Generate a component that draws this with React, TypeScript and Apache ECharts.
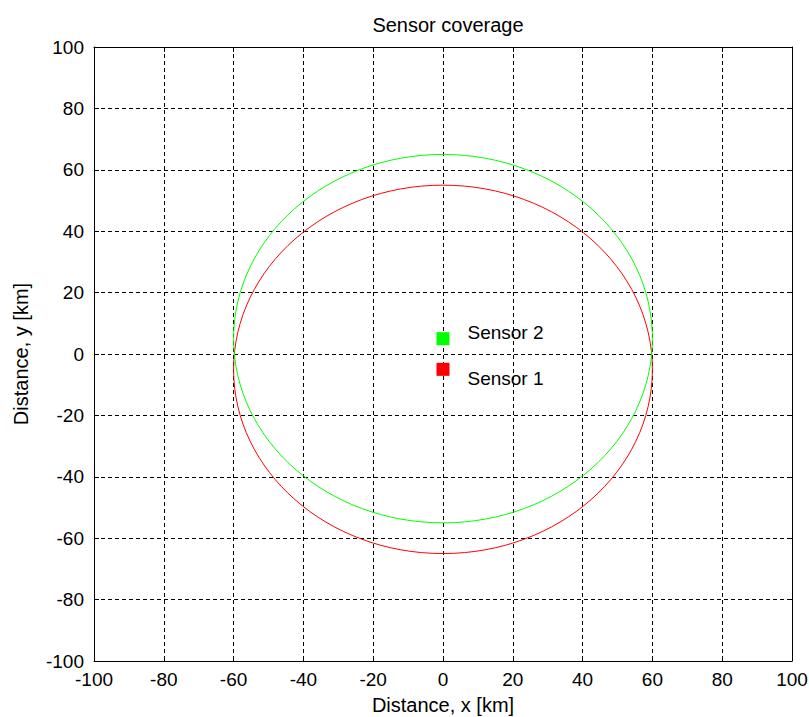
import React, { useEffect, useRef } from "react";
import * as echarts from "echarts";

const sensorNames = ["Sensor 1", "Sensor 2"];
const sensorX = [0, 0];
const sensorY = [-5, 5];
const sensorRange = [60, 60];
const sensorColors = ["#ff0000", "#00ff00"];
const labelOffsets = [[0, 9], [0, -6]];

const axisMin = -100;
const axisMax = 100;
const tickStep = 20;

const FONT = "Liberation Sans";

export default function App() {
  const ref = useRef<HTMLDivElement>(null);
  useEffect(() => {
    if (!ref.current) return;
    const chart = echarts.init(ref.current, null, { renderer: "svg" });
    const circleData = sensorNames.map((n, i) => ({
      name: n,
      value: [sensorX[i], sensorY[i], sensorRange[i]],
      itemStyle: { color: sensorColors[i] },
    }));
    const pointData = sensorNames.map((n, i) => ({
      name: n,
      value: [sensorX[i], sensorY[i]],
      itemStyle: { color: sensorColors[i], opacity: 1 },
      label: { offset: labelOffsets[i] },
    }));
    const splitLine = { show: true, lineStyle: { color: "#000", type: [4, 3] as any, width: 1 } };
    const axisCommon = {
      min: axisMin,
      max: axisMax,
      interval: tickStep,
      axisLine: { show: true, onZero: false, lineStyle: { color: "#000", width: 1 } },
      axisTick: { show: true, inside: true, length: 5, lineStyle: { color: "#000" } },
    };
    chart.setOption({
      animation: false,
      backgroundColor: "#fff",
      title: {
        text: "Sensor coverage",
        left: 443,
        textAlign: "center",
        top: 10,
        textStyle: { fontFamily: FONT, fontSize: 20, fontWeight: "normal", color: "#000" },
      },
      grid: {
        left: 94,
        top: 47,
        width: 698,
        height: 614,
        containLabel: false,
        outerBoundsMode: "none",
      } as any,
      xAxis: [
        {
          ...axisCommon,
          type: "value",
          position: "bottom",
          name: "Distance, x [km]",
          nameLocation: "middle",
          nameGap: 34,
          nameTextStyle: { fontFamily: FONT, fontSize: 20, color: "#000" },
          axisLabel: { fontFamily: FONT, fontSize: 19, color: "#000", margin: 9 },
          splitLine,
        },
        {
          ...axisCommon,
          type: "value",
          position: "top",
          axisLabel: { show: false },
          splitLine: { show: false },
        },
      ],
      yAxis: [
        {
          ...axisCommon,
          type: "value",
          position: "left",
          name: "Distance, y [km]",
          nameLocation: "middle",
          nameGap: 63,
          nameTextStyle: { fontFamily: FONT, fontSize: 20, color: "#000" },
          axisLabel: { fontFamily: FONT, fontSize: 19, color: "#000", margin: 10 },
          splitLine,
        },
        {
          ...axisCommon,
          type: "value",
          position: "right",
          axisLabel: { show: false },
          splitLine: { show: false },
        },
      ],
      series: [
        {
          type: "custom",
          xAxisIndex: 0,
          yAxisIndex: 0,
          data: circleData,
          renderItem: (params: any, api: any) => {
            const c = api.coord([api.value(0), api.value(1)]);
            const s = api.size([api.value(2), api.value(2)]);
            const color = sensorColors[params.dataIndex];
            return {
              type: "ellipse",
              shape: { cx: c[0], cy: c[1], rx: s[0], ry: s[1] },
              style: { fill: "none", stroke: color, lineWidth: 1 },
            };
          },
        },
        {
          type: "scatter",
          xAxisIndex: 0,
          yAxisIndex: 0,
          symbol: "rect",
          symbolSize: 13,
          data: pointData,
          itemStyle: { opacity: 1 },
          label: {
            show: true,
            position: "right",
            distance: 18,
            formatter: "{b}",
            fontFamily: FONT,
            fontSize: 19,
            color: "#000",
          },
        },
      ],
    });
    return () => chart.dispose();
  }, []);
  return (
    <div
      ref={ref}
      style={{ position: "fixed", left: 0, top: 0, width: 809, height: 717 }}
    />
  );
}
